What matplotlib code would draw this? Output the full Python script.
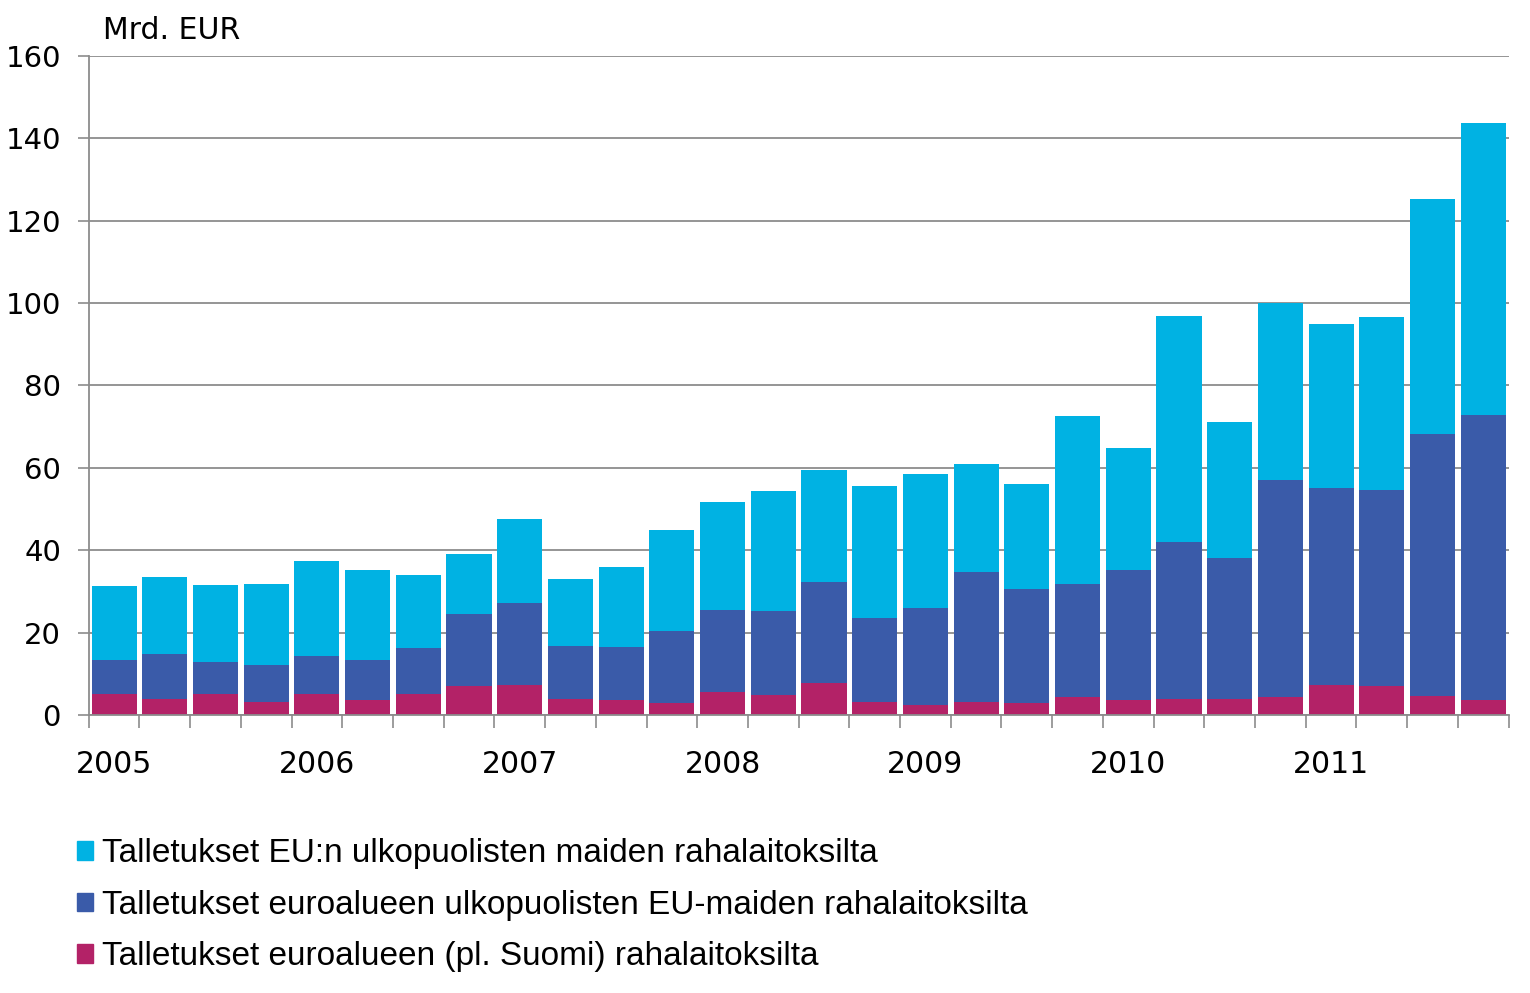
import matplotlib
matplotlib.use("Agg")
import matplotlib.pyplot as plt
import numpy as np
from matplotlib.patches import Patch

# quarterly data 2005Q1 - 2011Q4, bn EUR
years = ["2005", "2006", "2007", "2008", "2009", "2010", "2011"]
euro_area = [5.1, 3.8, 5.1, 3.2, 5.2, 3.6, 5.2, 7.1, 7.3, 3.8, 3.6, 2.8, 5.6, 4.8,
             7.7, 3.2, 2.4, 3.2, 2.9, 4.4, 3.7, 3.9, 3.9, 4.4, 7.3, 7.1, 4.7, 3.7]
# cumulative tops of the middle (non-euro EU) segment
eu_top = [13.3, 14.8, 12.8, 12.1, 14.3, 13.3, 16.2, 24.4, 27.1, 16.7, 16.5, 20.3, 25.4, 25.2,
          32.4, 23.5, 25.9, 34.6, 30.7, 31.9, 35.1, 41.9, 38.2, 57.1, 55.2, 54.7, 68.1, 72.8]
# bar totals
totals = [31.2, 33.6, 31.5, 31.9, 37.5, 35.1, 33.9, 39.0, 47.7, 32.9, 36.0, 44.8, 51.8, 54.4,
          59.5, 55.6, 58.5, 61.0, 56.1, 72.6, 64.8, 96.9, 71.1, 100.1, 95.0, 96.7, 125.4, 143.7]

labels = ["Talletukset EU:n ulkopuolisten maiden rahalaitoksilta",
          "Talletukset euroalueen ulkopuolisten EU-maiden rahalaitoksilta",
          "Talletukset euroalueen (pl. Suomi) rahalaitoksilta"]
colors = ["#00B2E3", "#3A5BA9", "#B32267"]

euro_area = np.array(euro_area)
eu_non_euro = np.array(eu_top) - euro_area
non_eu = np.array(totals) - np.array(eu_top)
x = np.arange(len(totals))

fig = plt.figure(figsize=(15.3, 9.93), dpi=100)
ax = fig.add_axes([0.058, 0.28, 0.928, 0.6636])

w = 0.89
ax.bar(x, euro_area, w, color=colors[2], zorder=2)
ax.bar(x, eu_non_euro, w, bottom=euro_area, color=colors[1], zorder=2)
ax.bar(x, non_eu, w, bottom=euro_area + eu_non_euro, color=colors[0], zorder=2)

grid_c = "#8c8c8c"
ax.set_xlim(-0.5, len(x) - 0.5)
ax.set_ylim(0, 160)
ax.set_yticks(np.arange(0, 161, 20))
ax.yaxis.grid(True, color=grid_c, linewidth=1.3, zorder=0)
ax.set_axisbelow(True)

ax.set_xticks(np.arange(0, len(x), 4))
ax.set_xticklabels(years)
ax.set_xticks(np.arange(-0.5, len(x), 1), minor=True)
ax.tick_params(axis="x", which="major", length=0, pad=25, labelsize=21.5)
ax.tick_params(axis="x", which="minor", length=9, width=1.2, color=grid_c)
ax.tick_params(axis="y", length=8, width=1.2, color=grid_c, labelsize=21, pad=12)

for s in ["top", "right"]:
    ax.spines[s].set_visible(False)
for s in ["left", "bottom"]:
    ax.spines[s].set_color(grid_c)
    ax.spines[s].set_linewidth(1.3)

fig.text(0.067, 0.969, "Mrd. EUR", fontsize=21.5, va="center", ha="left")

handles = [Patch(color=c) for c in colors]
fig.legend(handles, labels, loc="upper left", bbox_to_anchor=(0.05, 0.1556),
           frameon=False, prop={"family": "Liberation Sans", "size": 24},
           handlelength=0.48, handleheight=0.48, handletextpad=0.3,
           labelspacing=0.61, borderaxespad=0, borderpad=0)

fig.savefig("out.png", dpi=100)
